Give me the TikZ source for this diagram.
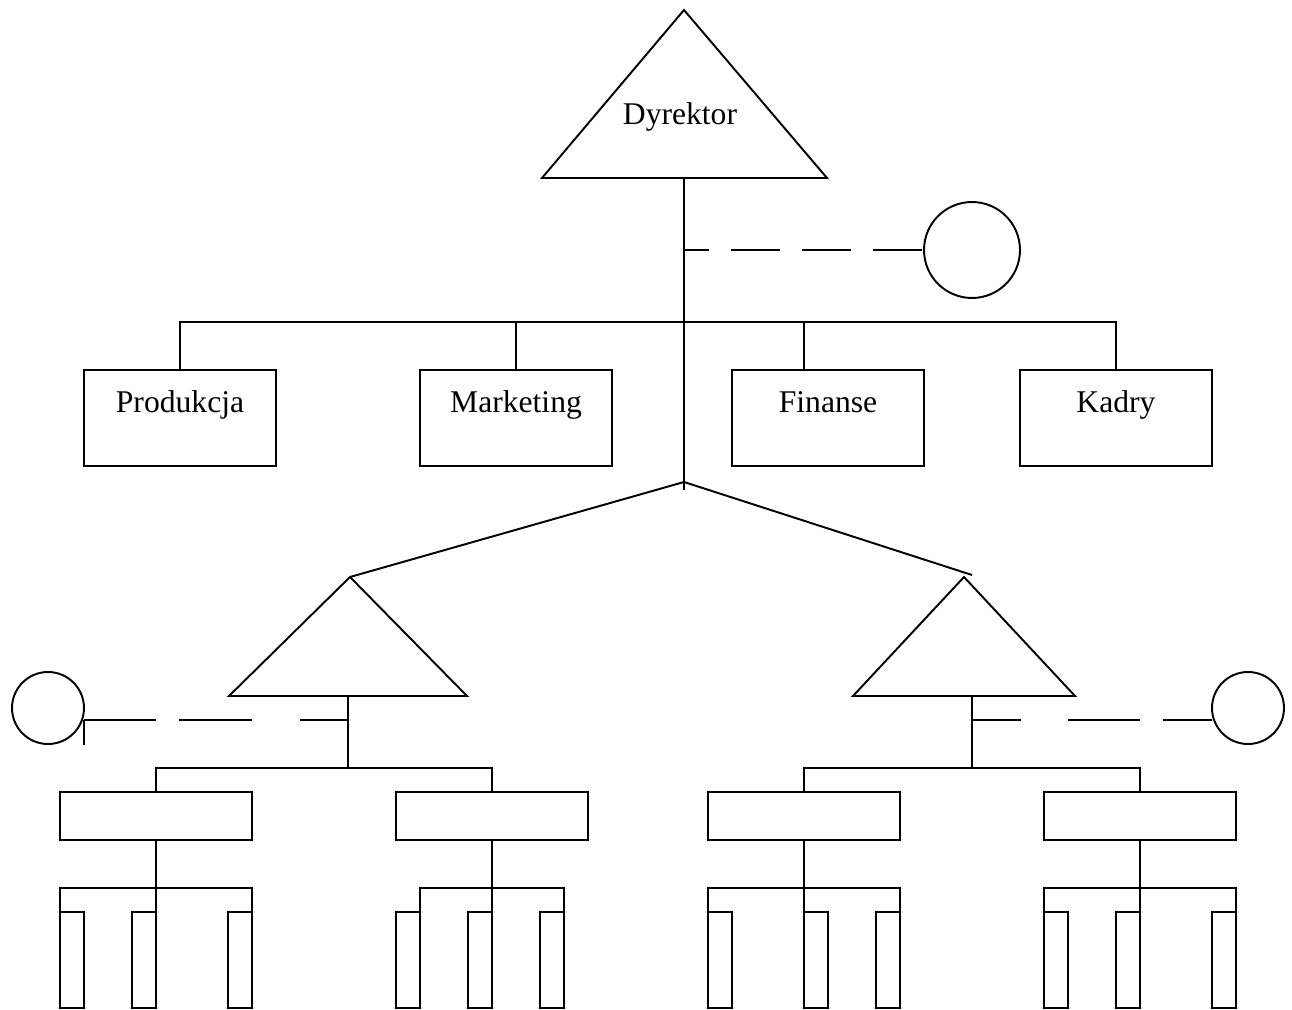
\documentclass[tikz,border=0pt]{standalone}
\usepackage{fontspec}
\setmainfont{Liberation Serif}

\begin{document}
\begin{tikzpicture}[x=0.02cm, y=-0.02cm, line width=1.1pt,
    unit/.style={draw, minimum width=3.84cm, minimum height=1.92cm, inner sep=0pt, outer sep=0pt},
    subunit/.style={draw, minimum width=3.84cm, minimum height=0.96cm, inner sep=0pt, outer sep=0pt},
    post/.style={draw, minimum width=0.48cm, minimum height=1.92cm, inner sep=0pt, outer sep=0pt},
    staff/.style={draw, circle, inner sep=0pt, outer sep=0pt},
    title/.style={anchor=base, font=\fontsize{18}{20}\selectfont}]
    \useasboundingbox (0, 0) rectangle (1292, 1010);

    % director
    \coordinate (dirTop) at (684, 10);
    \coordinate (dirL) at (542, 178);
    \coordinate (dirR) at (827, 178);
    \draw (dirTop) -- (dirL) -- (dirR) -- cycle;
    \node[title] (dir) at (680, 125) {Dyrektor};

    \coordinate (dirFoot) at (684, 178);
    \coordinate (stemEnd) at (684, 490);
    \coordinate (fork) at (684, 482);
    \draw (dirFoot) -- (stemEnd);

    % staff post of the director
    \node[staff, minimum size=1.92cm] (adv) at (972, 250) {};
    \coordinate (advJoin) at (684, 250);
    \draw[dash pattern=on 27.9pt off 12.5pt, dash phase=13.7pt] (advJoin) -- (adv.west);

    % departments
    \node[unit] (prod) at (180, 418) {};
    \node[unit] (mark) at (516, 418) {};
    \node[unit] (fin) at (828, 418) {};
    \node[unit] (kadry) at (1116, 418) {};
    \node[title] at (180, 412) {Produkcja};
    \node[title] at (516, 412) {Marketing};
    \node[title] at (828, 412) {Finanse};
    \node[title] at (1116, 412) {Kadry};

    \coordinate (deptBar) at (684, 322);
    \draw (prod.north) |- (deptBar) -| (kadry.north);
    \draw (mark.north) -- (mark.north |- deptBar);
    \draw ([xshift=-0.48cm]fin.north) -- ([xshift=-0.48cm]fin.north |- deptBar);

    % left branch
    \coordinate (lTop) at (350, 577);
    \coordinate (lBL) at (229, 696);
    \coordinate (lBR) at (467, 696);
    \draw (fork) -- (lTop);
    \draw (lTop) -- (lBL) -- (lBR) -- cycle;
    \coordinate (lFoot) at (348, 696);
    \coordinate (lBar) at (348, 768);
    \draw (lFoot) -- (lBar);

    \node[staff, minimum size=1.44cm] (lAdv) at (48, 708) {};
    \coordinate (lJoin) at (348, 720);
    \draw[dash pattern=on 27.3pt off 27.3pt on 41.5pt off 13.1pt on 41.5pt off 0pt]
        (lJoin) -- (lJoin -| lAdv.east);
    \draw (lJoin -| lAdv.east) -- ++(0, 25);

    % right branch
    \coordinate (rTip) at (972, 575);
    \coordinate (rTop) at (964, 577);
    \coordinate (rBL) at (853, 696);
    \coordinate (rBR) at (1075, 696);
    \draw (fork) -- (rTip);
    \draw (rTop) -- (rBL) -- (rBR) -- cycle;
    \coordinate (rFoot) at (972, 696);
    \coordinate (rBar) at (972, 768);
    \draw (rFoot) -- (rBar);

    \node[staff, minimum size=1.44cm] (rAdv) at (1248, 708) {};
    \coordinate (rJoin) at (972, 720);
    \draw[dash pattern=on 27.9pt off 26.7pt on 41pt off 13.1pt on 27.9pt off 0pt]
        (rJoin) -- (rJoin -| rAdv.west);

    % sections
    \node[subunit] (d1) at (156, 816) {};
    \node[subunit] (d2) at (492, 816) {};
    \node[subunit] (d3) at (804, 816) {};
    \node[subunit] (d4) at (1140, 816) {};
    \draw (d1.north) |- (lBar) -| (d2.north);
    \draw (d3.north) |- (rBar) -| (d4.north);

    % posts under section 1
    \node[post] (d1a) at (72, 960) {};
    \node[post] (d1b) at (144, 960) {};
    \node[post] (d1c) at (240, 960) {};
    \coordinate (d1Bar) at (156, 888);
    \draw (d1.south) -- (d1b.north east);
    \draw (d1a.north west) |- (d1Bar) -| (d1c.north east);

    % posts under section 2
    \node[post] (d2a) at (408, 960) {};
    \node[post] (d2b) at (480, 960) {};
    \node[post] (d2c) at (552, 960) {};
    \coordinate (d2Bar) at (492, 888);
    \draw (d2.south) -- (d2b.north east);
    \draw (d2a.north east) |- (d2Bar) -| (d2c.north east);

    % posts under section 3
    \node[post] (d3a) at (720, 960) {};
    \node[post] (d3b) at (816, 960) {};
    \node[post] (d3c) at (888, 960) {};
    \coordinate (d3Bar) at (804, 888);
    \draw (d3.south) -- (d3b.north west);
    \draw (d3a.north west) |- (d3Bar) -| (d3c.north east);

    % posts under section 4
    \node[post] (d4a) at (1056, 960) {};
    \node[post] (d4b) at (1128, 960) {};
    \node[post] (d4c) at (1224, 960) {};
    \coordinate (d4Bar) at (1140, 888);
    \draw (d4.south) -- (d4b.north east);
    \draw (d4a.north west) |- (d4Bar) -| (d4c.north east);
\end{tikzpicture}
\end{document}
